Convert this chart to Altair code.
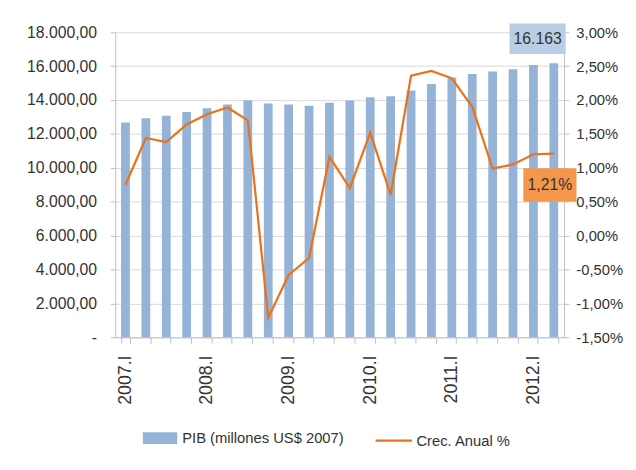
import altair as alt
import pandas as pd

quarters = ["2007.I", "2007.II", "2007.III", "2007.IV",
            "2008.I", "2008.II", "2008.III", "2008.IV",
            "2009.I", "2009.II", "2009.III", "2009.IV",
            "2010.I", "2010.II", "2010.III", "2010.IV",
            "2011.I", "2011.II", "2011.III", "2011.IV",
            "2012.I", "2012.II"]
pib = [12680, 12930, 13070, 13300, 13510, 13740, 13990, 13800, 13740, 13660, 13840,
       13970, 14170, 14230, 14560, 14940, 15330, 15540, 15680, 15810, 16060, 16163]
crec = [0.75, 1.44, 1.38, 1.64, 1.79, 1.89, 1.70, -1.21, -0.58, -0.33, 1.16,
        0.70, 1.52, 0.60, 2.36, 2.43, 2.32, 1.90, 0.99, 1.05, 1.20, 1.21]
left_ticks = [0, 2000, 4000, 6000, 8000, 10000, 12000, 14000, 16000, 18000]
right_ticks = [-1.5, -1.0, -0.5, 0.0, 0.5, 1.0, 1.5, 2.0, 2.5, 3.0]
serie_pib = "PIB (millones US$ 2007)"
serie_crec = "Crec. Anual %"

df = pd.DataFrame({"trimestre": quarters, "pib": pib, "crec": crec,
                   "s_pib": serie_pib, "s_crec": serie_crec})

FONT = "Liberation Sans, Arial, sans-serif"
TXT = "#333333"
BAR = "#95B3D7"
LINE = "#E8731C"

base = alt.Chart(df)

x_enc = alt.X("trimestre:N", sort=quarters, title=None,
              scale=alt.Scale(paddingInner=0.57, paddingOuter=0.285),
              axis=alt.Axis(tickBand="extent", labelAngle=-90, labelAlign="right",
                            labelBaseline="middle",
                            labelExpr="slice(datum.label, -2) == '.I' ? datum.label : ''",
                            labelFont=FONT, labelFontSize=18, labelColor=TXT,
                            labelPadding=12, tickSize=6, tickColor="#BFBFBF",
                            domainColor="#BFBFBF", grid=False))

y_left = alt.Y("pib:Q", title=None,
               scale=alt.Scale(domain=[0, 18000], nice=False),
               axis=alt.Axis(values=left_ticks, orient="left",
                             labelExpr="datum.value == 0 ? '-\u00a0\u00a0\u00a0\u00a0\u00a0' : replace(replace(replace(format(datum.value, ',.2f'), ',', '_'), '.', ','), '_', '.')",
                             labelFont=FONT, labelFontSize=16, labelColor=TXT,
                             labelPadding=14, tickSize=5, tickColor="#BFBFBF",
                             domainColor="#BFBFBF", gridColor="#D9D9D9",
                             minExtent=99, maxExtent=99))

bars = base.mark_bar(opacity=1).encode(
    x=x_enc, y=y_left,
    fill=alt.Fill("s_pib:N", scale=alt.Scale(domain=[serie_pib], range=[BAR]),
                  legend=alt.Legend(title=None, orient="none", legendX=28, legendY=395,
                                    symbolType="M-1,-0.34H1V0.34H-1Z", symbolSize=1225,
                                    symbolStrokeWidth=0, symbolOpacity=1,
                                    labelFont=FONT, labelFontSize=15, labelColor=TXT,
                                    labelLimit=400, labelOffset=5, padding=0))
)

last = base.transform_filter("datum.trimestre == '2012.II'")

pib_box = last.mark_point(shape="M-1,-0.544H1V0.544H-1Z", size=3249, filled=True,
                          fill="#B9CDE5", opacity=1, strokeWidth=0,
                          xOffset=-16.5, yOffset=-25).encode(
    x=x_enc, y=y_left)

pib_text = last.transform_calculate(
    lbl="replace(format(datum.pib, ',d'), ',', '.')"
).mark_text(dx=-16.5, dy=-25, font=FONT, fontSize=16, color=TXT).encode(
    x=x_enc, y=y_left, text="lbl:N")

left = alt.layer(bars, pib_box, pib_text)

y_right = alt.Y("crec:Q", title=None,
                scale=alt.Scale(domain=[-1.5, 3.0], nice=False),
                axis=alt.Axis(values=right_ticks, orient="right", grid=False,
                              labelExpr="replace(replace(format(datum.value, '.2f'), '.', ','), '\u2212', '-') + '%'",
                              labelFont=FONT, labelFontSize=15, labelColor=TXT,
                              labelPadding=7, tickSize=5, tickColor="#BFBFBF",
                              domainColor="#BFBFBF"))

line = base.mark_line(strokeWidth=2.25).encode(
    x=x_enc, y=y_right,
    stroke=alt.Stroke("s_crec:N", scale=alt.Scale(domain=[serie_crec], range=[LINE]),
                      legend=alt.Legend(title=None, orient="none", legendX=263, legendY=395,
                                        symbolType="stroke", symbolSize=1369,
                                        symbolStrokeWidth=2.25,
                                        labelFont=FONT, labelFontSize=15, labelColor=TXT,
                                        labelLimit=400, labelOffset=3, padding=0))
)

crec_box = last.mark_point(shape="M-1,-0.63H1V0.63H-1Z", size=2916, filled=True,
                           fill="#F5974B", opacity=1, strokeWidth=0,
                           xOffset=-4, yOffset=32).encode(
    x=x_enc, y=y_right)

crec_text = last.transform_calculate(
    lbl="replace(format(datum.crec, '.2f'), '.', ',') + '%'"
).mark_text(dx=-4, dy=32, font=FONT, fontSize=16, color=TXT).encode(
    x=x_enc, y=y_right, text="lbl:N")

right = alt.layer(line, crec_box, crec_text)

chart = alt.layer(left, right).resolve_scale(y="independent").properties(
    width=456, height=310,
    padding={"left": 10, "top": 12, "right": 5, "bottom": 5},
    background="white",
).configure_view(stroke="transparent")

chart.save("out.html", embed_options={"renderer": "svg", "actions": False})
